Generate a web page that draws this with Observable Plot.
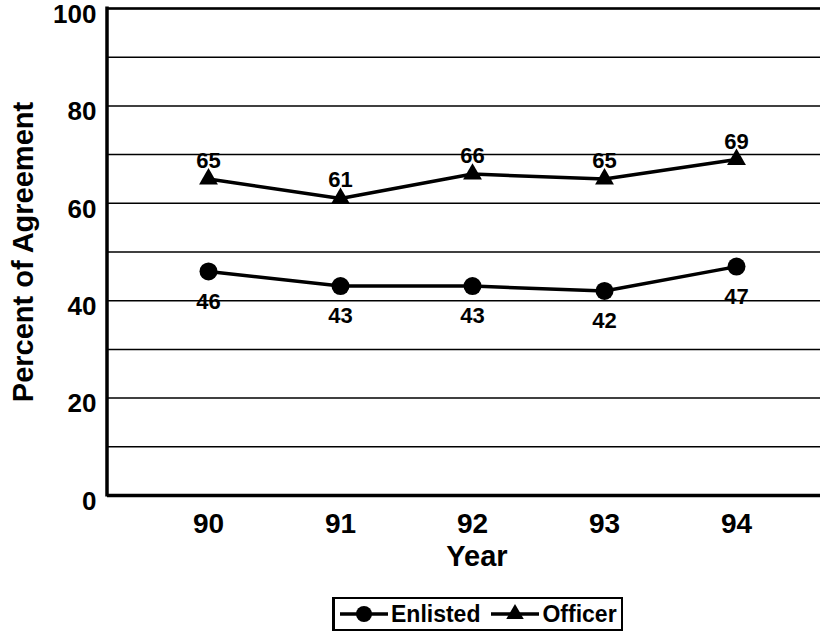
<!DOCTYPE html>
<html>
<head>
<meta charset="utf-8">
<script src="https://cdn.jsdelivr.net/npm/d3@7"></script>
<script src="https://cdn.jsdelivr.net/npm/@observablehq/plot@0.6"></script>
<style>
  html, body { margin: 0; padding: 0; background: white; }
  body { width: 820px; height: 634px; position: relative; overflow: hidden; font-family: "Liberation Sans", Arial, sans-serif; }
  #legend { position: absolute; left: 332px; top: 597px; width: 291px; height: 34px; box-sizing: border-box;
    border: 2px solid black; border-left-width: 3px; display: flex; align-items: center; padding-left: 5px;
    font-weight: bold; font-size: 23px; color: black; }
  #legend .item { display: flex; align-items: center; }
  #legend .item + .item { margin-left: 11px; }
  #legend svg { display: block; margin-right: 3px; }
</style>
</head>
<body>
<div id="chart"></div>
<div id="legend"></div>
<script>
const years = ["90", "91", "92", "93", "94"];
const enlisted = [46, 43, 43, 42, 47];
const officer = [65, 61, 66, 65, 69];
const seriesNames = ["Enlisted", "Officer"];
const seriesSymbols = ["circle", "triangle"];
const yTicks = [0, 20, 40, 60, 80, 100];
const gridValues = [10, 20, 30, 40, 50, 60, 70, 80, 90, 100];

const enlData = years.map((y, i) => ({year: y, series: "Enlisted", value: enlisted[i]}));
const offData = years.map((y, i) => ({year: y, series: "Officer", value: officer[i]}));
const data = enlData.concat(offData);

const leftAxisLine = (index, scales, values, dimensions) => {
  const {marginLeft, marginTop, height, marginBottom} = dimensions;
  return d3.create("svg:line")
    .attr("x1", marginLeft).attr("x2", marginLeft)
    .attr("y1", marginTop - 1.5).attr("y2", height - marginBottom + 1.5)
    .attr("stroke", "black").attr("stroke-width", 3.5)
    .node();
};

const chart = Plot.plot({
  width: 820,
  height: 585,
  marginLeft: 107,
  marginRight: 0,
  marginTop: 8,
  marginBottom: 90,
  style: {fontFamily: "'Liberation Sans', Arial, sans-serif", fontWeight: "bold", background: "white", color: "black", overflow: "visible"},
  x: {type: "point", domain: years, range: [207, 737], padding: 0, label: null},
  y: {domain: [0, 100], label: null},
  marks: [
    Plot.ruleY(gridValues, {stroke: "black", strokeWidth: 1.5}),
    Plot.ruleY([100], {stroke: "black", strokeWidth: 2.5}),
    Plot.ruleY([0], {stroke: "black", strokeWidth: 3.5}),
    leftAxisLine,
    Plot.axisY(yTicks, {tickSize: 0, tickPadding: 11, fontSize: 26, dy: 6, label: null}),
    Plot.text(["Percent of Agreement"], {frameAnchor: "left", textAnchor: "middle", lineAnchor: "middle", rotate: -90, dx: -84, fontSize: 29, fill: "black"}),
    Plot.axisX({tickSize: 0, tickPadding: 18, fontSize: 28, label: null}),
    Plot.text(["Year"], {frameAnchor: "bottom", dy: 70, dx: 13, fontSize: 29, fill: "black"}),
    Plot.line(data, {x: "year", y: "value", z: "series", stroke: "black", strokeWidth: 3.5}),
    Plot.dot(enlData, {x: "year", y: "value", symbol: "circle", r: 9, fill: "black", stroke: "none"}),
    Plot.dot(offData, {x: "year", y: "value", symbol: "triangle", r: 7, fill: "black", stroke: "none"}),
    Plot.text(enlData, {x: "year", y: "value", text: d => String(d.value), dy: 30, fontSize: 22, fill: "black"}),
    Plot.text(offData, {x: "year", y: "value", text: d => String(d.value), dy: -18, fontSize: 22, fill: "black"})
  ]
});
document.getElementById("chart").appendChild(chart);

// Legend
const legend = d3.select("#legend");
seriesNames.forEach((name, i) => {
  const item = legend.append("div").attr("class", "item");
  const svg = item.append("svg").attr("width", 48).attr("height", 22);
  svg.append("line").attr("x1", 0).attr("x2", 48).attr("y1", 11).attr("y2", 11)
    .attr("stroke", "black").attr("stroke-width", 3.5);
  const sym = seriesSymbols[i] === "circle" ? d3.symbolCircle : d3.symbolTriangle;
  const size = seriesSymbols[i] === "circle" ? Math.PI * 8 * 8 : Math.PI * 6.5 * 6.5;
  svg.append("path").attr("transform", "translate(24,11)")
    .attr("d", d3.symbol(sym, size)()).attr("fill", "black");
  item.append("span").text(name);
});
</script>
</body>
</html>
